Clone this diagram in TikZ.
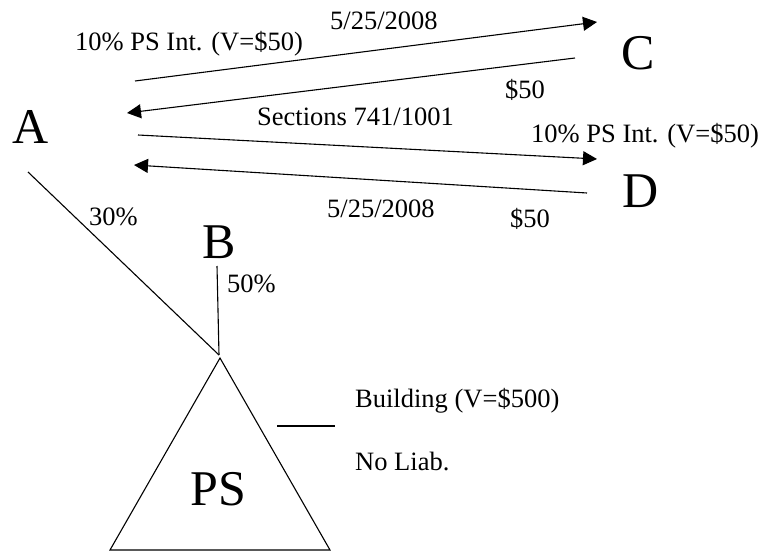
\documentclass[tikz,border=0pt]{standalone}
\usepackage{fontspec}
\setmainfont{Liberation Serif}
\usetikzlibrary{arrows.meta}
\begin{document}
\begin{tikzpicture}[x=1pt,y=-1pt,
  party/.style={inner sep=0pt,anchor=base west,font=\fontsize{50}{50}\selectfont},
  lbl/.style={inner sep=0pt,anchor=base west,font=\fontsize{26.5}{26.5}\selectfont},
  wire/.style={line width=1.1pt},
  flow/.style={line width=1.1pt,-{Triangle[length=14pt,width=14pt]}}]
\useasboundingbox (0,0) rectangle (762,551);

% parties
\node[party] (A) at (12,143) {A};
\node[party] (B) at (202,258) {B};
\node[party] (C) at (621,70) {C};
\node[party] (D) at (622,207) {D};

% transfer end points
\coordinate (a1) at (135,81);   \coordinate (c1) at (597,22);
\coordinate (c2) at (575,58);   \coordinate (a2) at (127,113);
\coordinate (a3) at (138,135);  \coordinate (d3) at (597,159);
\coordinate (d4) at (587,193);  \coordinate (a4) at (134,165);

\draw[flow] (a1) -- (c1);
\draw[flow] (c2) -- (a2);
\draw[flow] (a3) -- (d3);
\draw[flow] (d4) -- (a4);

% transfer labels
\node[lbl] (t1) at (330,30) {5/25/2008};
\node[lbl] (t2) at (75,50) {10\% PS Int. (V=\$50)};
\node[lbl] (t3) at (505,98) {\$50};
\node[lbl] (t4) at (257,125) {Sections 741/1001};
\node[lbl] (t5) at (531,142) {10\% PS Int. (V=\$50)};
\node[lbl] (t6) at (327,217) {5/25/2008};
\node[lbl] (t7) at (510,227) {\$50};

% partnership
\coordinate (top) at (220,358);
\coordinate (bl) at (110,550);
\coordinate (br) at (330,550);
\draw[wire, line join=miter] (top) -- (bl) -- (br) -- cycle;
\node[party] (PS) at (190,505) {PS};

\coordinate (aLeg) at (28,172);
\coordinate (bLeg) at (217,266);
\coordinate (joint) at (219,355);
\draw[wire] (aLeg) -- (joint);
\draw[wire] (bLeg) -- (joint);
\node[lbl] (p30) at (89,225) {30\%};
\node[lbl] (p50) at (227,292) {50\%};

% partnership assets
\coordinate (s1) at (277,426);
\coordinate (s2) at (335,426);
\draw[wire] (s1) -- (s2);
\node[lbl] (asset) at (355,407) {Building (V=\$500)};
\node[lbl] (liab) at (355,470) {No Liab.};
\end{tikzpicture}
\end{document}
